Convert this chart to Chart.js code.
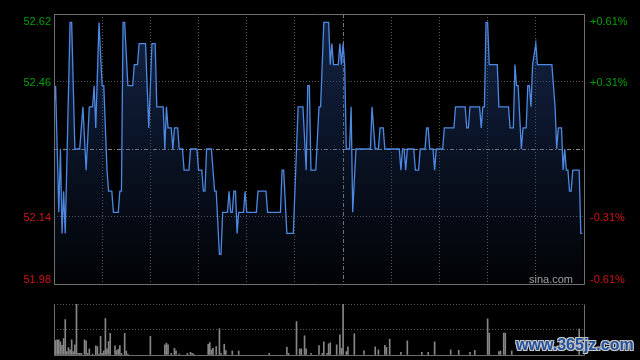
<!DOCTYPE html>
<html>
<head>
<meta charset="utf-8">
<script src="https://cdn.jsdelivr.net/npm/chart.js@4"></script>
<style>
  html, body { margin: 0; padding: 0; background: #000; }
  body { width: 640px; height: 360px; position: relative; overflow: hidden; }
  canvas { position: absolute; left: 0; }
  #price { top: 0; }
  #vol { top: 290px; }
  #mark {
    position: absolute; left: 516px; top: 337px;
    font: bold 16px/16px "Liberation Sans", Arial, sans-serif;
    color: #22529f;
    text-shadow: -1px -1px 0 #c8c8c8, 1px -1px 0 #c8c8c8, -1px 1px 0 #c8c8c8, 1px 1px 0 #c8c8c8;
    white-space: nowrap;
  }
</style>
</head>
<body>
<canvas id="price" width="640" height="300"></canvas>
<canvas id="vol" width="640" height="70"></canvas>
<div id="mark">www.365jz.com</div>
<script>
// minute of session (0..330) and traded price at each turn of the line
const minutes = [0, 1, 3, 4, 5, 6, 7, 10, 11, 13, 16, 17, 18, 20, 22, 24, 25, 26, 28, 30,
  31, 33, 34, 36, 37, 40, 41, 42, 43, 44, 46, 49, 50, 52, 53, 57, 59, 61, 63, 64,
  68, 69, 70, 71, 73, 74, 75, 77, 78, 80, 81, 84, 85, 89, 90, 92, 93, 94, 95, 98,
  100, 101, 103, 104, 105, 108, 109, 110, 111, 112, 113, 114, 115, 118, 119, 120, 126, 127, 132, 133,
  141, 142, 143, 145, 149, 152, 155, 157, 158, 159, 160, 163, 165, 166, 168, 171, 172, 173, 174, 177,
  178, 179, 180, 181, 182, 184, 185, 186, 188, 197, 198, 200, 202, 203, 205, 206, 215, 216, 217, 218,
  219, 220, 224, 225, 227, 228, 231, 232, 233, 234, 236, 237, 238, 242, 243, 249, 250, 256, 257, 258,
  259, 265, 266, 267, 268, 269, 270, 271, 276, 277, 283, 284, 286, 287, 288, 289, 291, 292, 294, 295,
  296, 297, 298, 300, 301, 310, 312, 313, 314, 316, 317, 318, 319, 320, 321, 322, 323, 327, 328, 329];
const prices = [52.40, 52.45, 52.15, 52.30, 52.10, 52.20, 52.10, 52.60, 52.60, 52.30, 52.30, 52.35, 52.40, 52.25, 52.40, 52.40, 52.45, 52.35, 52.60, 52.45,
  52.45, 52.25, 52.20, 52.20, 52.15, 52.15, 52.20, 52.20, 52.60, 52.60, 52.45, 52.45, 52.50, 52.50, 52.55, 52.55, 52.35, 52.55, 52.55, 52.40,
  52.40, 52.30, 52.40, 52.35, 52.35, 52.30, 52.35, 52.35, 52.30, 52.30, 52.25, 52.25, 52.30, 52.30, 52.25, 52.25, 52.20, 52.20, 52.30, 52.30,
  52.20, 52.20, 52.05, 52.05, 52.15, 52.15, 52.20, 52.15, 52.15, 52.20, 52.20, 52.10, 52.15, 52.15, 52.20, 52.15, 52.15, 52.20, 52.20, 52.15,
  52.15, 52.25, 52.25, 52.10, 52.10, 52.40, 52.40, 52.25, 52.45, 52.45, 52.25, 52.25, 52.40, 52.40, 52.60, 52.60, 52.50, 52.55, 52.50, 52.50,
  52.55, 52.50, 52.55, 52.50, 52.30, 52.30, 52.40, 52.15, 52.30, 52.30, 52.40, 52.30, 52.30, 52.35, 52.35, 52.30, 52.30, 52.25, 52.30, 52.30,
  52.25, 52.30, 52.30, 52.25, 52.25, 52.30, 52.30, 52.35, 52.35, 52.30, 52.30, 52.25, 52.30, 52.30, 52.35, 52.35, 52.40, 52.40, 52.35, 52.35,
  52.40, 52.40, 52.35, 52.40, 52.40, 52.60, 52.60, 52.50, 52.50, 52.40, 52.40, 52.35, 52.35, 52.50, 52.45, 52.45, 52.30, 52.35, 52.35, 52.45,
  52.45, 52.40, 52.50, 52.55, 52.50, 52.50, 52.40, 52.30, 52.35, 52.35, 52.25, 52.30, 52.25, 52.25, 52.20, 52.20, 52.25, 52.25, 52.10, 52.10];

// volume bars (minute, relative size)
const volMinutes = [1, 2, 3, 4, 5, 6, 7, 8, 9, 10, 11, 12, 13, 14, 15, 16, 17, 19, 20, 21,
  22, 24, 26, 27, 28, 29, 30, 31, 32, 33, 34, 35, 38, 39, 40, 41, 42, 44, 45, 46,
  60, 69, 70, 71, 73, 75, 76, 78, 83, 85, 86, 87, 96, 97, 98, 99, 101, 103, 104, 106,
  107, 111, 115, 134, 145, 146, 151, 153, 154, 156, 157, 160, 165, 167, 168, 170, 171, 172, 176, 178,
  179, 180, 182, 183, 187, 193, 200, 202, 206, 207, 209, 216, 220, 229, 233, 237, 247, 252, 259, 262,
  270, 271, 277, 278, 280, 281, 285, 327];
const volumes = [43, 45, 45, 39, 29, 49, 105, 10, 22, 15, 45, 10, 30, 151, 5, 5, 5, 45, 42, 5,
  18, 3, 27, 25, 3, 55, 5, 12, 108, 18, 40, 64, 27, 13, 17, 28, 5, 64, 12, 3,
  55, 30, 35, 30, 5, 20, 12, 3, 5, 8, 5, 3, 32, 37, 15, 20, 25, 78, 5, 32,
  13, 12, 12, 5, 23, 5, 99, 18, 18, 57, 18, 5, 28, 5, 39, 5, 33, 36, 30, 60,
  20, 151, 10, 24, 63, 12, 24, 15, 29, 23, 47, 8, 42, 8, 8, 39, 15, 14, 8, 14,
  107, 65, 10, 12, 65, 65, 12, 77];

const priceTicks = [51.98, 52.14, 52.30, 52.46, 52.62];
const priceLabels = ['51.98', '52.14', '', '52.46', '52.62'];
const pctLabels = ['-0.61%', '-0.31%', '', '+0.31%', '+0.61%'];
const prevClose = 52.30;
const sessionLength = 330;
const midSession = 180;

const UP = '#00a000';
const DOWN = '#d01414';
const FONT = '11px "Liberation Sans", Arial, sans-serif';
const GRID = '#5a5a5a';
const FRAME = '#6e6e6e';

function fillGradient(context) {
  const area = context.chart.chartArea;
  if (!area) return 'rgba(30,60,110,0.3)';
  const g = context.chart.ctx.createLinearGradient(0, area.top, 0, area.bottom);
  g.addColorStop(0, 'rgba(35,65,125,0.55)');
  g.addColorStop(1, 'rgba(35,65,125,0.04)');
  return g;
}

// box round the plot area; top edge optional (volume panel has a dotted top)
const frame = {
  id: 'frame',
  afterDraw(chart, args, opts) {
    const { ctx, chartArea: a } = chart;
    const l = Math.round(a.left) + 0.5, r = Math.round(a.right) + 0.5;
    const t = Math.round(a.top) + 0.5, b = Math.round(a.bottom) + 0.5;
    ctx.save();
    ctx.strokeStyle = FRAME;
    ctx.lineWidth = 1;
    ctx.beginPath();
    if (opts.top) { ctx.moveTo(l, t); ctx.lineTo(r, t); }
    ctx.moveTo(l, t); ctx.lineTo(l, b);
    ctx.lineTo(r, b); ctx.lineTo(r, t);
    ctx.stroke();
    ctx.restore();
  }
};

// price + percent labels on both sides, top/bottom ones pulled inside
const sideLabels = {
  id: 'sideLabels',
  afterDraw(chart) {
    const { ctx, chartArea: a } = chart;
    const y = chart.scales.y;
    ctx.save();
    ctx.font = FONT;
    priceTicks.forEach((v, i) => {
      if (!priceLabels[i]) return;
      let py = y.getPixelForValue(v);
      if (i === priceTicks.length - 1) py += 11;
      else if (i === 0) py -= 1;
      else py += 4;
      ctx.fillStyle = v > prevClose ? UP : DOWN;
      ctx.textAlign = 'right';
      ctx.fillText(priceLabels[i], a.left - 3, py);
      ctx.textAlign = 'left';
      ctx.fillText(pctLabels[i], a.right + 6, py);
    });
    ctx.fillStyle = '#a0a0a0';
    ctx.textAlign = 'right';
    ctx.fillText('sina.com', a.right - 11, a.bottom - 1);
    ctx.restore();
  }
};

const priceChart = new Chart(document.getElementById('price'), {
  type: 'line',
  data: {
    datasets: [{
      data: minutes.map((m, i) => ({ x: m, y: prices[i] })),
      borderColor: '#4d88e2',
      borderWidth: 1.3,
      pointRadius: 0,
      tension: 0,
      fill: 'start',
      backgroundColor: fillGradient,
    }],
  },
  options: {
    responsive: false,
    animation: false,
    events: [],
    layout: { padding: { top: 14, bottom: 16, left: 0, right: 0 } },
    plugins: { legend: { display: false }, tooltip: { enabled: false }, frame: { top: true } },
    scales: {
      x: {
        type: 'linear', min: 0, max: sessionLength,
        ticks: { display: false, stepSize: 30 },
        grid: {
          drawTicks: false,
          color: ctx => (ctx.tick && ctx.tick.value === midSession ? '#7a7a7a' : GRID),
        },
        border: {
          display: false,
          dash: ctx => (ctx.tick && ctx.tick.value === midSession ? [4, 2, 1, 2] : [1, 2]),
        },
        afterFit: s => { s.height = 0; },
      },
      y: {
        position: 'left',
        min: priceTicks[0], max: priceTicks[priceTicks.length - 1],
        afterBuildTicks: s => { s.ticks = priceTicks.map(v => ({ value: v })); },
        ticks: { display: false },
        grid: {
          drawTicks: false,
          color: ctx => (ctx.tick && ctx.tick.value === prevClose ? '#8a8a8a' : GRID),
        },
        border: {
          display: false,
          dash: ctx => (ctx.tick && ctx.tick.value === prevClose ? [4, 2, 1, 2] : [1, 2]),
        },
        afterFit: s => { s.width = 54; },
      },
      y2: {
        position: 'right',
        min: priceTicks[0], max: priceTicks[priceTicks.length - 1],
        ticks: { display: false },
        grid: { display: false },
        border: { display: false },
        afterFit: s => { s.width = 56; },
      },
    },
  },
  plugins: [frame, sideLabels],
});

const volMax = Math.max(...volumes);

const volChart = new Chart(document.getElementById('vol'), {
  type: 'bar',
  data: {
    datasets: [{
      data: volMinutes.map((m, i) => ({ x: m, y: volumes[i] })),
      backgroundColor: '#868686',
      barThickness: 1,
      borderWidth: 0,
    }],
  },
  options: {
    responsive: false,
    animation: false,
    events: [],
    layout: { padding: { top: 14, bottom: 5, left: 0, right: 56 } },
    plugins: { legend: { display: false }, tooltip: { enabled: false }, frame: { top: false } },
    scales: {
      x: {
        type: 'linear', min: 0, max: sessionLength,
        offset: false,
        ticks: { display: false },
        grid: { display: false, offset: false },
        border: { display: false },
        afterFit: s => { s.height = 0; },
      },
      y: {
        min: 0, max: volMax,
        afterBuildTicks: s => { s.ticks = [0, volMax / 2, volMax].map(v => ({ value: v })); },
        ticks: { display: false },
        grid: { drawTicks: false, color: GRID },
        border: { display: false, dash: [1, 2] },
        afterFit: s => { s.width = 54; },
      },
    },
  },
  plugins: [frame],
});
</script>
</body>
</html>
